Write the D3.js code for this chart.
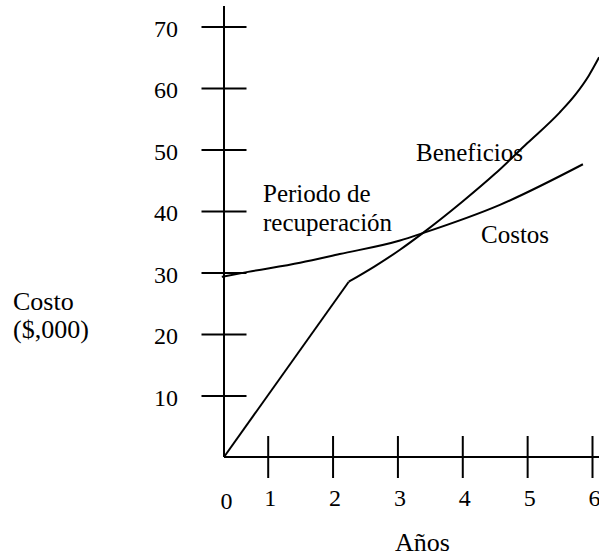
<!DOCTYPE html>
<html>
<head>
<meta charset="utf-8">
<script src="https://cdn.jsdelivr.net/npm/d3@7"></script>
<style>
body { margin: 0; background: #fff; }
svg text { font-family: "Liberation Serif", "Times New Roman", serif; font-size: 24px; fill: #000; }
</style>
</head>
<body>
<div id="chart"></div>
<script>
// years / cost values (in $000)
var years = [0, 1, 2, 3, 4, 5, 6];
var yTicks = [10, 20, 30, 40, 50, 60, 70];

var costos_x = [-0.05, 0.55, 1.5, 2.11, 3.04, 3.39, 4.58, 5.86];
var costos_y = [29.3, 30.1, 31.6, 33.0, 35.2, 36.4, 41.0, 47.6];

var beneficios_x = [0, 2.25, 2.65, 3.04, 3.39, 4.0, 4.5, 5.0, 5.5, 5.75, 5.95, 6.11];
var beneficios_y = [0, 28.5, 31.0, 33.7, 36.4, 41.5, 46.0, 51.0, 56.0, 59.0, 62.0, 65.0];

var width = 599, height = 556;

var svg = d3.select("#chart")
    .append("svg")
    .attr("width", width)
    .attr("height", height);

// x axis is not uniform in the source: 0 -> 1 is shorter than the rest
var xScale = d3.scaleLinear()
    .domain([0, 1, 6])
    .range([224, 267.7, 592]);

var yScale = d3.scaleLinear()
    .domain([0, 70])
    .range([457, 26.5]);

// y axis
var yAxis = d3.axisLeft()
    .scale(yScale)
    .tickValues(yTicks)
    .tickFormat(d3.format("d"))
    .tickSize(0)
    .tickPadding(0);

var gy = svg.append("g")
    .attr("transform", "translate(" + xScale(0) + ",0)")
    .attr("font-family", null)
    .call(yAxis);

gy.select(".domain").remove();
gy.selectAll(".tick line")
    .attr("x1", -22.5)
    .attr("x2", 22.5)
    .attr("stroke", "#000")
    .attr("stroke-width", 2);
gy.selectAll(".tick text")
    .attr("x", 178 - xScale(0))
    .attr("dy", "0.4em")
    .style("font-size", "24px");

svg.append("line")
    .attr("x1", xScale(0)).attr("x2", xScale(0))
    .attr("y1", yScale(0)).attr("y2", 6)
    .attr("stroke", "#000")
    .attr("stroke-width", 2);

// x axis
var xAxis = d3.axisBottom()
    .scale(xScale)
    .tickValues(years)
    .tickFormat(d3.format("d"))
    .tickSize(0)
    .tickPadding(0);

var gx = svg.append("g")
    .attr("transform", "translate(0," + yScale(0) + ")")
    .call(xAxis);

gx.select(".domain").remove();
gx.selectAll(".tick line")
    .attr("y1", -21)
    .attr("y2", 21)
    .attr("stroke", "#000")
    .attr("stroke-width", 2)
    .style("display", function(d) { return d == 0 ? "none" : null; });
gx.selectAll(".tick text")
    .attr("y", function(d) { return d == 0 ? 52 : 49; })
    .attr("dy", 0)
    .attr("dx", 2)
    .style("font-size", "24px");

svg.append("line")
    .attr("x1", xScale(0)).attr("x2", width)
    .attr("y1", yScale(0)).attr("y2", yScale(0))
    .attr("stroke", "#000")
    .attr("stroke-width", 2);

// curves
var costos = costos_x.map(function(d, i) { return [d, costos_y[i]]; });
var beneficios = beneficios_x.map(function(d, i) { return [d, beneficios_y[i]]; });

var smooth = d3.line()
    .x(function(d) { return xScale(d[0]); })
    .y(function(d) { return yScale(d[1]); })
    .curve(d3.curveMonotoneX);

var straight = d3.line()
    .x(function(d) { return xScale(d[0]); })
    .y(function(d) { return yScale(d[1]); });

svg.append("path")
    .attr("d", smooth(costos))
    .attr("fill", "none")
    .attr("stroke", "#000")
    .attr("stroke-width", 2);

// straight run up to the kink, then a smooth curve
svg.append("path")
    .attr("d", straight(beneficios.slice(0, 2)))
    .attr("fill", "none")
    .attr("stroke", "#000")
    .attr("stroke-width", 2);

svg.append("path")
    .attr("d", smooth(beneficios.slice(1)))
    .attr("fill", "none")
    .attr("stroke", "#000")
    .attr("stroke-width", 2);

// labels
svg.append("text").attr("x", 263).attr("y", 202).style("font-size", "25px").text("Periodo de");
svg.append("text").attr("x", 263).attr("y", 231).style("font-size", "25px").text("recuperación");
svg.append("text").attr("x", 416).attr("y", 161).style("font-size", "25px").text("Beneficios");
svg.append("text").attr("x", 481).attr("y", 243).style("font-size", "25px").text("Costos");
svg.append("text").attr("x", 13).attr("y", 310).style("font-size", "26px").text("Costo");
svg.append("text").attr("x", 13).attr("y", 338).style("font-size", "26px").text("($,000)");
svg.append("text").attr("x", 395).attr("y", 551).style("font-size", "26px").text("Años");
</script>
</body>
</html>
